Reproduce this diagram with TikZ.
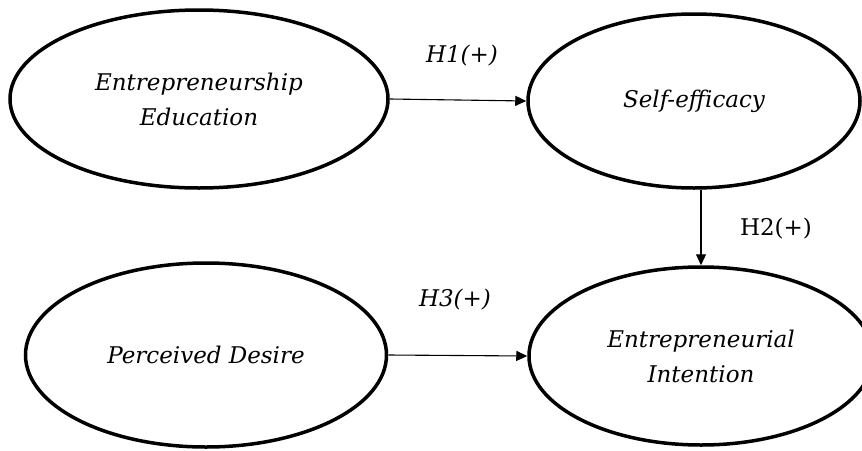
\documentclass[tikz,border=0pt]{standalone}
\usepackage{fontspec}
\setmainfont{DejaVu Serif}
\usetikzlibrary{shapes.geometric,arrows.meta}
\begin{document}
\begin{tikzpicture}[x=1pt,y=-1pt,
  construct/.style={draw, ellipse, line width=3.5pt, inner sep=0pt, align=center,
    font=\fontsize{23}{35}\selectfont\itshape},
  hyp/.style={-{Triangle[length=11pt,width=10pt]}, line width=1.1pt},
  lbl/.style={font=\fontsize{23}{28}\selectfont, inner sep=0pt}]
\useasboundingbox (0,0) rectangle (862,450);
\clip (0,0) rectangle (862,450);
\node[construct, minimum width=378pt, minimum height=178pt] (ee) at (199,99) {Entrepreneurship\\Education};
\node[construct, minimum width=332pt, minimum height=174pt] (se) at (694,101) {Self-efficacy};
\node[construct, minimum width=361pt, minimum height=184pt] (pd) at (206,355) {Perceived Desire};
\node[construct, minimum width=344pt, minimum height=178pt] (ei) at (701,356) {Entrepreneurial\\Intention};
\draw[hyp] (ee.east) -- (se.west);
\draw[hyp] (ei.north |- se.south) -- (ei.north);
\draw[hyp] (pd.east) -- (ei.west);
\node[lbl, font=\fontsize{23}{28}\selectfont\itshape] (h1) at (462,56) {H1(+)};
\node[lbl] (h2) at (776,229) {H2(+)};
\node[lbl, font=\fontsize{23}{28}\selectfont\itshape] (h3) at (455,300) {H3(+)};
\end{tikzpicture}
\end{document}
